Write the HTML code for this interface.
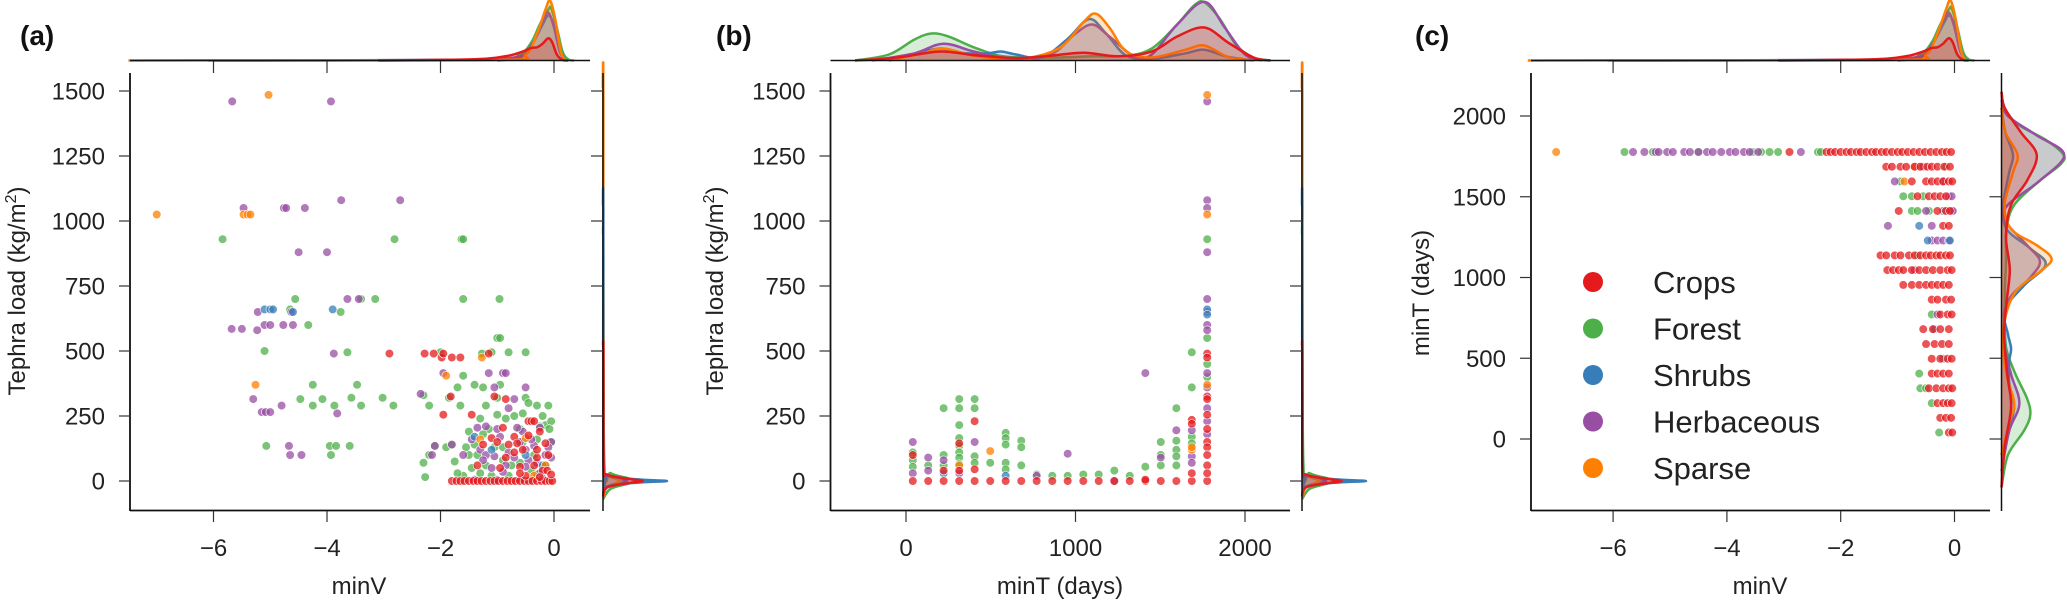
<!DOCTYPE html>
<html><head><meta charset="utf-8">
<style>
html,body{margin:0;padding:0;background:#fff;}
svg{display:block;font-family:"Liberation Sans",Arial,sans-serif;}
.tk{font-size:24px;fill:#222;}
.lab{font-size:24px;fill:#222;}
.pl{font-size:28px;font-weight:bold;fill:#111;}
.lg{font-size:31px;fill:#222;}
</style></head>
<body>
<svg id="fig" width="2067" height="600" viewBox="0 0 2067 600" xmlns="http://www.w3.org/2000/svg"></svg>
<script>
// ---------------- data ----------------
const categories = ["Crops","Forest","Shrubs","Herbaceous","Sparse"];
const colors = ["#e41a1c","#4daf4a","#377eb8","#984ea3","#ff7f00"];
const loadTicks = [0,250,500,750,1000,1250,1500];
const minVTicks = [-6,-4,-2,0];
const minTTicks = [0,1000,2000];
const minTTicksC = [0,500,1000,1500,2000];

// Panel (a): [minV, tephra load]
const aCrops = [[-1.8,0],[-1.72,0],[-1.65,0],[-1.58,0],[-1.5,0],[-1.42,0],[-1.35,0],[-1.28,0],[-1.2,0],[-1.12,0],[-1.05,0],[-0.98,0],[-0.9,0],[-0.82,0],[-0.75,0],[-0.68,0],[-0.6,0],[-0.52,0],[-0.45,0],[-0.38,0],[-0.3,0],[-0.22,0],[-0.15,0],[-0.08,0],[-0.03,0],
[-2.9,490],[-2.28,490],[-2.12,490],[-1.98,475],[-1.95,490],[-1.8,475],[-1.65,475],[-1.15,490],[-1.95,255],[-1.82,325],[-1.45,255],[-1.05,325],[-0.85,315],[-0.9,205],[-0.45,230],[-0.4,230],[-0.35,230],[-0.7,170],[-0.55,120],[-0.65,145],[-0.3,90],[-0.15,145],[-0.1,100],[-0.2,40],[-0.35,60],[-0.6,55],[-0.8,140],[-1.1,165],[-1.25,140],[-0.95,50],[-0.5,20],[-0.25,15],
[-0.7,110],[-0.45,175],[-0.3,120],[-0.12,40],[-0.05,25],[-1.0,150],[-0.85,90],[-0.6,30],[-1.35,60],[-0.25,190]];
const aForest = [[-5.84,930],[-2.81,930],[-1.63,930],[-1.6,930],[-4.56,700],[-3.15,700],[-3.4,700],[-1.6,700],[-0.96,700],[-4.65,660],[-3.76,650],[-4.33,600],[-5.1,500],[-3.64,495],[-4.25,370],[-3.47,370],[-4.47,315],[-4.08,315],[-3.57,320],[-3.02,320],[-2.83,290],[-4.25,290],[-3.87,290],[-3.4,290],[-5.07,135],[-3.95,135],[-3.84,135],[-3.93,100],[-3.6,135],[-2.3,70],[-2.27,15],[-2.2,100],[-2.1,135],[-1.9,130],[-2.0,495],[-1.27,490],[-1.0,550],[-0.95,550],[-0.8,495],[-0.5,495],[-1.1,495],[-1.6,405],[-1.4,370],[-1.25,360],[-1.7,360],[-0.95,370],[-1.0,320],[-1.85,320],[-2.3,330],[-2.2,290],[-1.65,290],[-0.5,320],[-0.3,290],[-0.1,290],[-0.15,215],[-0.05,230],[-0.25,210],[-1.5,190],[-1.3,240],[-1.0,255],[-1.8,140],[-1.75,75],[-1.5,100],[-1.2,60],[-0.9,80],[-0.6,70],[-0.4,40],[-0.05,150],[-0.7,250],[-0.6,200],[-1.2,290],[-1.6,20],[-1.3,30],[-0.8,20],[-0.3,25],[-1.4,140],[-0.3,160],[-0.75,60],[-1.05,130],[-0.45,300],
[-1.55,130],[-1.35,100],[-1.15,200],[-0.85,240],[-0.55,260],[-0.2,250],[-0.08,200],[-1.7,30],[-1.45,50],[-1.1,20],[-0.55,150],[-0.35,100],[-0.15,60],[-0.9,130],[-1.25,180]];
const aShrubs = [[-5.1,660],[-5.0,660],[-4.95,660],[-3.9,660],[-4.6,650],[-1.1,120],[-0.5,100],[-0.2,60],[-1.4,170]];
const aHerb = [[-5.67,1460],[-3.93,1460],[-5.47,1050],[-4.76,1050],[-4.72,1050],[-4.39,1050],[-3.75,1080],[-2.71,1080],[-4.5,880],[-4.0,880],[-3.64,700],[-3.44,700],[-5.22,650],[-4.63,650],[-5.68,585],[-5.5,585],[-5.23,580],[-5.1,600],[-5.0,600],[-4.77,600],[-4.6,600],[-3.88,490],[-5.3,315],[-5.15,265],[-5.08,265],[-5.0,265],[-4.8,290],[-3.82,260],[-4.67,135],[-4.65,100],[-4.45,100],[-2.35,335],[-2.15,100],[-2.1,135],[-1.95,415],[-1.8,140],[-1.6,100],[-1.15,415],[-0.9,415],[-0.85,415],[-1.05,360],[-0.5,360],[-0.7,315],[-0.8,280],[-1.35,205],[-1.2,210],[-0.95,170],[-0.55,190],[-0.25,205],[-0.05,150],[-1.3,120],[-1.2,100],[-1.05,95],[-0.8,110],[-0.7,90],[-0.45,80],[-0.5,120],[-0.35,135],[-0.15,100],[-0.05,90],[-1.1,50],[-0.85,60],[-0.5,55],[-0.25,30],[-1.4,5],[-1.0,5],[-0.6,5],[-0.2,10],
[-1.45,160],[-1.0,200],[-0.65,205],[-0.4,160],[-0.1,130],[-0.3,70],[-0.9,35],[-1.25,80],[-0.6,150]];
const aSparse = [[-5.03,1485],[-7.0,1025],[-5.47,1025],[-5.4,1025],[-5.35,1025],[-5.26,370],[-1.27,475],[-1.9,405],[-0.5,165],[-1.3,160],[-0.15,60],[-0.35,20]];

// Panel (b): [minT, tephra load]
const bCrops = [[40,0],[131,0],[222,0],[314,0],[405,0],[497,0],[588,0],[680,0],[771,0],[863,0],[954,0],[1046,0],[1137,0],[1229,0],[1320,0],[1412,0],[1503,0],[1595,0],[1686,0],[1777,0],[405,230],[314,145],[222,40],[314,40],[405,45],[40,100],[1686,235],[1686,220],[1777,490],[1777,475],[1777,325],[1777,315],[1777,255],[1777,200],[1777,150],[1777,130],[1777,100],[1777,60],[1777,30],[1686,30],[1412,5]];
const bForest = [[222,280],[314,315],[314,280],[314,215],[314,165],[314,135],[314,110],[314,90],[314,65],[405,315],[405,280],[405,95],[405,70],[222,100],[222,60],[131,60],[40,110],[40,80],[40,55],[497,70],[588,185],[588,165],[588,140],[588,70],[588,45],[680,155],[680,130],[680,60],[771,25],[863,20],[954,20],[1046,25],[1137,25],[1229,40],[1320,20],[1412,55],[1503,150],[1503,100],[1503,60],[1595,280],[1595,155],[1595,120],[1595,95],[1595,60],[1686,495],[1686,360],[1686,170],[1686,145],[1777,930],[1777,550],[1777,450],[1777,400]];
const bShrubs = [[1777,660],[1777,640],[222,30],[588,20]];
const bHerb = [[40,150],[131,90],[222,80],[405,150],[954,105],[1412,415],[1503,90],[1595,195],[1686,195],[1686,95],[1686,70],[1777,1460],[1777,1080],[1777,1050],[1777,880],[1777,700],[1777,650],[1777,600],[1777,580],[1777,415],[1777,360],[1777,280],[1777,230],[1777,180],[771,20],[1229,0],[40,30],[131,40],[314,30]];
const bSparse = [[1777,1485],[1777,1025],[497,115],[314,60],[1686,120],[1686,130],[1777,370]];

// Panel (c): rows [minT, [minV...]]
const cCrops = [[1777,[-2.9,-2.25,-2.18,-2.1,-2.0,-1.9,-1.82,-1.72,-1.65,-1.55,-1.45,-1.38,-1.28,-1.2,-1.1,-1.0,-0.92,-0.82,-0.72,-0.62,-0.52,-0.42,-0.32,-0.22,-0.14,-0.06]],
[1686,[-1.2,-1.1,-0.95,-0.85,-0.7,-0.6,-0.48,-0.4,-0.3,-0.18,-0.08]],[1595,[-0.75,-0.5,-0.4,-0.3,-0.2,-0.1,-0.04]],[1503,[-0.65,-0.45,-0.35,-0.25,-0.15]],[1412,[-0.98,-0.3,-0.15,-0.08]],[1320,[-0.2,-0.1]],
[1137,[-1.3,-1.2,-1.05,-0.95,-0.8,-0.7,-0.6,-0.5,-0.42,-0.32,-0.25,-0.15,-0.08]],[1046,[-1.18,-1.08,-0.98,-0.9,-0.75,-0.62,-0.5,-0.38,-0.25,-0.12,-0.05]],[954,[-0.9,-0.75,-0.62,-0.5,-0.4,-0.3,-0.2,-0.1]],[863,[-0.4,-0.3,-0.15,-0.06]],[771,[-0.25,-0.12,-0.05]],[680,[-0.55,-0.38,-0.25,-0.1]],[588,[-0.5,-0.35,-0.22,-0.1]],[497,[-0.4,-0.25,-0.12,-0.05]],[405,[-0.4,-0.3,-0.2,-0.1]],[314,[-0.45,-0.32,-0.2,-0.1,-0.04]],[222,[-0.3,-0.2,-0.12,-0.05]],[131,[-0.25,-0.15,-0.06]],[40,[-0.1,-0.04]]];
const cForest = [[1777,[-5.8,-5.3,-4.5,-3.55,-3.4,-3.25,-3.1,-2.4,-2.35]],[1686,[-0.6,-0.15]],[1595,[-0.95]],[1503,[-0.9,-0.75,-0.55]],[1412,[-0.75,-0.65,-0.45]],[1137,[-0.65]],[771,[-0.4]],[405,[-0.62]],[314,[-0.6,-0.5]],[222,[-0.4]],[40,[-0.27]]];
const cShrubs = [[1320,[-0.62]],[1229,[-0.47,-0.08]],[680,[-0.35]],[497,[-0.2]],[1412,[-0.2]]];
const cHerb = [[1777,[-5.65,-5.45,-5.25,-5.2,-5.05,-4.95,-4.75,-4.65,-4.5,-4.35,-4.25,-4.1,-3.95,-3.85,-3.7,-3.6,-3.45,-2.7]],[1686,[-0.55]],[1595,[-1.05,-0.2]],[1503,[-0.1,-0.05]],[1412,[-0.5,-0.05,-0.03]],[1320,[-1.17,-0.4]],[1229,[-0.4,-0.3,-0.2,-0.1]],[771,[-0.3]],[1046,[-0.7]]];
const cSparse = [[1777,[-7.0]],[1595,[-0.88]],[1686,[-0.7]]];

// Densities (relative heights), minV marginal
const kdeVCrops = [[-3.1,0],[-2,0.01],[-1.2,0.03],[-0.8,0.08],[-0.55,0.15],[-0.4,0.21],[-0.3,0.22],[-0.2,0.28],[-0.1,0.37],[-0.03,0.3],[0.05,0.1],[0.15,0.01],[0.25,0]];
const kdeVForest = [[-6.1,0],[-3,0.005],[-1,0.02],[-0.6,0.1],[-0.4,0.3],[-0.25,0.6],[-0.1,0.85],[-0.05,0.87],[0.05,0.55],[0.15,0.15],[0.25,0.02],[0.35,0]];
const kdeVShrubs = [[-1,0],[-0.6,0.05],[-0.4,0.25],[-0.2,0.6],[-0.1,0.75],[0,0.6],[0.1,0.2],[0.2,0]];
const kdeVHerb = [[-6,0],[-2,0.01],[-0.7,0.05],[-0.4,0.25],[-0.2,0.65],[-0.1,0.8],[0,0.55],[0.1,0.15],[0.2,0]];
const kdeVSparse = [[-7.5,0],[-6,0.005],[-1,0.01],[-0.5,0.1],[-0.3,0.45],[-0.15,0.85],[-0.07,1.0],[0.02,0.7],[0.12,0.15],[0.2,0]];
// minT marginal
const kdeTCrops = [[-300,0],[-50,0.05],[200,0.15],[400,0.09],[650,0.04],[850,0.08],[1050,0.13],[1250,0.07],[1450,0.15],[1600,0.4],[1760,0.55],[1900,0.3],[2050,0.05],[2150,0]];
const kdeTForest = [[-300,0],[-100,0.1],[50,0.35],[150,0.45],[250,0.4],[400,0.22],[550,0.08],[700,0.05],[900,0.05],[1100,0.07],[1300,0.08],[1450,0.2],[1600,0.6],[1700,0.92],[1760,0.97],[1850,0.7],[1950,0.25],[2050,0.05],[2150,0]];
const kdeTShrubs = [[-100,0],[50,0.1],[200,0.2],[350,0.12],[480,0.12],[560,0.15],[650,0.1],[800,0.05],[950,0.35],[1080,0.69],[1180,0.45],[1300,0.08],[1450,0.03],[1650,0.12],[1760,0.18],[1900,0.06],[2050,0]];
const kdeTHerb = [[-200,0],[50,0.12],[220,0.28],[400,0.15],[600,0.04],[850,0.1],[1000,0.45],[1100,0.6],[1200,0.4],[1350,0.06],[1450,0.1],[1600,0.6],[1760,0.98],[1880,0.55],[2000,0.1],[2100,0]];
const kdeTSparse = [[-100,0],[100,0.12],[220,0.2],[400,0.08],[650,0.02],[900,0.2],[1050,0.65],[1120,0.78],[1200,0.55],[1300,0.15],[1450,0.05],[1650,0.18],[1760,0.25],[1900,0.06],[2050,0]];
// tephra load marginal
const kdeLCrops = [[-60,0],[-25,0.06],[-8,0.4],[0,0.62],[8,0.4],[25,0.06],[60,0.01],[500,0.005],[520,0]];
const kdeLForest = [[-70,0],[-30,0.12],[-10,0.4],[0,0.52],[10,0.4],[30,0.12],[70,0.02],[900,0.005],[950,0]];
const kdeLShrubs = [[-50,0],[-20,0.08],[-6,0.55],[0,1.0],[6,0.55],[20,0.08],[50,0.01],[1050,0.004],[1060,0]];
const kdeLHerb = [[-60,0],[-25,0.06],[-8,0.28],[0,0.38],[8,0.28],[25,0.06],[60,0.01],[1500,0.005],[1510,0]];
const kdeLSparse = [[-60,0],[-25,0.05],[-8,0.2],[0,0.28],[8,0.2],[25,0.05],[60,0.01],[1500,0.004],[1510,0]];

// ---------------- scales ----------------
const xA = v => 554 + v*56.75;
const xB = v => 906 + v*0.1695;
const xC = v => 1954.5 + v*56.9;
const yL = v => 481 - v*0.26;
const yC = v => 439 - v*0.1615;
const TOPBASE = 60.5, TOPH = 60, RH = 64;

const svg = document.getElementById('fig');
const NS = 'http://www.w3.org/2000/svg';
function mk(tag, attrs, parent){
  const e = document.createElementNS(NS, tag);
  for (const k in attrs) e.setAttribute(k, attrs[k]);
  (parent||svg).appendChild(e);
  return e;
}
function txt(s, x, y, cls, anchor, parent){
  const t = mk('text', {x:x, y:y, class:cls, 'text-anchor':anchor||'middle'}, parent);
  t.textContent = s;
  return t;
}
function smooth(pts){
  let d = 'M'+pts[0][0].toFixed(1)+','+pts[0][1].toFixed(1);
  for (let i=0;i<pts.length-1;i++){
    const p0=pts[Math.max(0,i-1)], p1=pts[i], p2=pts[i+1], p3=pts[Math.min(pts.length-1,i+2)];
    const c1=[p1[0]+(p2[0]-p0[0])/6, p1[1]+(p2[1]-p0[1])/6];
    const c2=[p2[0]-(p3[0]-p1[0])/6, p2[1]-(p3[1]-p1[1])/6];
    d+='C'+c1[0].toFixed(1)+','+c1[1].toFixed(1)+' '+c2[0].toFixed(1)+','+c2[1].toFixed(1)+' '+p2[0].toFixed(1)+','+p2[1].toFixed(1);
  }
  return d;
}
function kdeTop(data, xs, color, name, g){
  const pts = data.map(p => [xs(p[0]), TOPBASE - p[1]*TOPH]);
  const d = smooth(pts);
  const f = mk('path', {d: d+'Z', fill: color, 'fill-opacity': 0.22, stroke:'none'}, g);
  
  
  const l = mk('path', {d: d, fill:'none', stroke: color, 'stroke-width': 2.5}, g);
  
  
}
function kdeRight(data, ys, base, color, name, g){
  const pts = data.map(p => [base + p[1]*RH, ys(p[0])]);
  const d = smooth(pts);
  const f = mk('path', {d: d+'Z', fill: color, 'fill-opacity': 0.22, stroke:'none'}, g);
  
  
  const l = mk('path', {d: d, fill:'none', stroke: color, 'stroke-width': 2.5}, g);
  
  
}
function points(data, xs, ys, color, name, g){
  data.forEach(p => {
    const c = mk('circle', {cx: xs(p[0]), cy: ys(p[1]), r: 4.3, fill: color, 'fill-opacity': 0.75, stroke:'#fff', 'stroke-width': 0.6}, g);
    
    
  });
}
function rowsToPts(rows){ const o=[]; rows.forEach(r => r[1].forEach(v => o.push([v, r[0]]))); return o; }

function panel(opt){
  const g = mk('g', {});
  
  
  const pl = txt(opt.letter, opt.letterX, 45, 'pl', 'start', g);
  
  
  const gt = mk('g', {}, g);
  
  
  opt.topKde.forEach((k,i) => kdeTop(k, opt.xs, colors[opt.topOrder[i]], 'kde-'+categories[opt.topOrder[i]].toLowerCase(), gt));
  mk('line', {x1: opt.L, x2: opt.R, y1: TOPBASE, y2: TOPBASE, stroke:'#111', 'stroke-width': 1.5}, gt);
  const gr = mk('g', {}, g);
  
  
  opt.rightKde.forEach((k,i) => kdeRight(k, opt.ys, opt.RB, colors[opt.rightOrder[i]], 'kde-'+categories[opt.rightOrder[i]].toLowerCase(), gr));
  mk('line', {x1: opt.RB, x2: opt.RB, y1: 73, y2: 511, stroke:'#111', 'stroke-width': 1.5}, gr);
  const gs = mk('g', {}, g);
  
  
  opt.scatter.forEach(s => points(s[0], opt.xs, opt.ys, colors[s[1]], 'point-'+categories[s[1]].toLowerCase(), gs));
  const ax = mk('g', {}, g);
  
  
  mk('line', {x1: opt.L, x2: opt.R, y1: 510.5, y2: 510.5, stroke:'#111', 'stroke-width': 1.8}, ax);
  opt.xTicks.forEach(t => {
    const x = opt.xs(t);
    mk('line', {x1:x, x2:x, y1:511, y2:522, stroke:'#333', 'stroke-width':1.2}, ax);
    mk('line', {x1:x, x2:x, y1:61, y2:73, stroke:'#333', 'stroke-width':1.2}, ax);
    txt(String(t).replace('-', '\u2212'), x, 556, 'tk', 'middle', ax);
  });
  const xl = txt(opt.xLabel, opt.xLabelX, 594, 'lab', 'middle', ax);
  
  
  const ay = mk('g', {}, g);
  
  
  mk('line', {x1: opt.L, x2: opt.L, y1: 73, y2: 511, stroke:'#111', 'stroke-width': 1.8}, ay);
  opt.yTicks.forEach(t => {
    const y = opt.ys(t);
    mk('line', {x1:opt.L-11, x2:opt.L, y1:y, y2:y, stroke:'#333', 'stroke-width':1.2}, ay);
    mk('line', {x1:opt.RB-12, x2:opt.RB, y1:y, y2:y, stroke:'#333', 'stroke-width':1.2}, ay);
    txt(String(t), opt.L-25, y+8.5, 'tk', 'end', ay);
  });
  const yl = mk('text', {x:0, y:0, class:'lab', 'text-anchor':'middle', transform:'translate('+opt.yLabelX+','+opt.yLabelY+') rotate(-90)'}, ay);
  
  
  if (opt.yLabelSup){
    yl.appendChild(document.createTextNode(opt.yLabel));
    const s = document.createElementNS(NS, 'tspan');
    s.setAttribute('dy', '-9'); s.setAttribute('font-size', '16'); s.textContent = '2';
    yl.appendChild(s);
    const e = document.createElementNS(NS, 'tspan');
    e.setAttribute('dy', '9'); e.textContent = ')';
    yl.appendChild(e);
  } else yl.textContent = opt.yLabel;
  return g;
}

const vKde = [kdeVForest, kdeVShrubs, kdeVHerb, kdeVSparse, kdeVCrops];
const tKde = [kdeTForest, kdeTShrubs, kdeTHerb, kdeTSparse, kdeTCrops];
const lKde = [kdeLForest, kdeLHerb, kdeLSparse, kdeLShrubs, kdeLCrops];
const ord = [1,2,3,4,0];
const lOrd = [1,3,4,2,0];

panel({name:'panel-a', letter:'(a)', letterX:20, L:130, R:590, RB:603, xs:xA, ys:yL,
  topKde:vKde, topOrder:ord, rightKde:lKde, rightOrder:lOrd,
  scatter:[[aForest,1],[aHerb,3],[aShrubs,2],[aSparse,4],[aCrops,0]],
  xTicks:minVTicks, yTicks:loadTicks, xLabel:'minV', xLabelX:359,
  yLabel:'Tephra load (kg/m', yLabelSup:true, yLabelX:25, yLabelY:291});
panel({name:'panel-b', letter:'(b)', letterX:716, L:830.5, R:1290, RB:1302, xs:xB, ys:yL,
  topKde:tKde, topOrder:ord, rightKde:lKde, rightOrder:lOrd,
  scatter:[[bForest,1],[bHerb,3],[bShrubs,2],[bSparse,4],[bCrops,0]],
  xTicks:minTTicks, yTicks:loadTicks, xLabel:'minT (days)', xLabelX:1060,
  yLabel:'Tephra load (kg/m', yLabelSup:true, yLabelX:723, yLabelY:291});
panel({name:'panel-c', letter:'(c)', letterX:1415, L:1531, R:1990, RB:2001.5, xs:xC, ys:yC,
  topKde:vKde, topOrder:ord, rightKde:tKde, rightOrder:ord,
  scatter:[[rowsToPts(cForest),1],[rowsToPts(cHerb),3],[rowsToPts(cShrubs),2],[rowsToPts(cSparse),4],[rowsToPts(cCrops),0]],
  xTicks:minVTicks, yTicks:minTTicksC, xLabel:'minV', xLabelX:1760,
  yLabel:'minT (days)', yLabelSup:false, yLabelX:1429, yLabelY:293});

const lg = mk('g', {});


categories.forEach((c,i) => {
  const y = 282 + i*46.5;
  const m = mk('circle', {cx:1593, cy:y, r:10, fill:colors[i]}, lg);
  
  
  const t = txt(c, 1653, y+11, 'lg', 'start', lg);
  
  
});
</script>
</body></html>
